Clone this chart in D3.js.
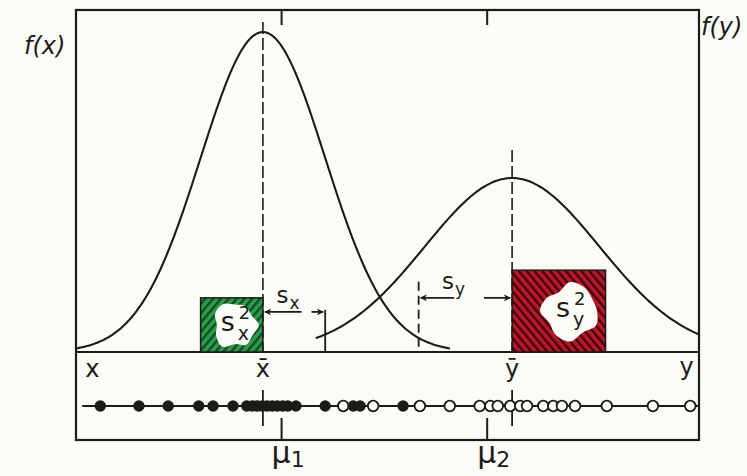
<!DOCTYPE html>
<html><head><meta charset="utf-8">
<script src="https://cdn.jsdelivr.net/npm/d3@7"></script>
<style>
html,body{margin:0;padding:0;background:#fcfcf6;}
svg{display:block;}
text{font-family:"DejaVu Sans",sans-serif;fill:#1b1b1b;}
</style></head><body>
<svg id="chart" width="747" height="476"></svg>
<script>
// Two samples measured on a common scale (0–100)
const sampleX = [3.9, 10.1, 14.8, 19.7, 22.0, 25.2, 27.4, 28.3, 29.1, 29.9, 30.7, 31.5, 32.3, 33.2, 34.0, 35.3, 40.0, 44.5, 45.6, 52.5];
const sampleY = [42.9, 47.7, 55.2, 60.0, 64.8, 66.5, 67.7, 69.7, 71.3, 72.4, 75.0, 76.6, 78.0, 80.1, 85.2, 92.6, 98.6];
// Sample means and standard deviations
const means = [30, 70];
const sds = [10, 15];
// Frequency curves: peak height and spread
const curvePeak = [0.798, 0.434];
const curveSpread = [10, 14];
const curveFrom = [0, 38.5];
const curveTo = [60, 100];
// Population means
const muValues = [33, 66];
const muSubs = ["1", "2"];
// Variable names
const varNames = ["x", "y"];
const meanNames = ["x̄", "ȳ"];
const densNames = ["f(x)", "f(y)"];

const svg = d3.select("#chart");
const ink = "#1b1b1b";
const paper = "#fcfcf6";

const x = d3.scaleLinear().domain([0, 100]).range([76, 699]);
const y = d3.scaleLinear().domain([0, 0.798]).range([352, 32]);

const frameTop = 10, frameBottom = 440, dotY = 406;
const freq = (v, i) => curvePeak[i] * Math.exp(-0.5 * ((v - means[i]) / curveSpread[i]) ** 2);

// hatch patterns
const defs = svg.append("defs");
function hatch(id, base, stripe, angle) {
  const p = defs.append("pattern").attr("id", id).attr("patternUnits", "userSpaceOnUse")
    .attr("width", 6).attr("height", 6).attr("patternTransform", `rotate(${angle})`);
  p.append("rect").attr("width", 6).attr("height", 6).attr("fill", base);
  p.append("rect").attr("width", 2.4).attr("height", 6).attr("fill", stripe);
}
hatch("hatchG", "#2f9b4c", "#0e4f22", 40);
hatch("hatchR", "#c01428", "#3a0610", -40);
defs.append("marker").attr("id", "arr").attr("viewBox", "0 0 10 10")
  .attr("refX", 9).attr("refY", 5).attr("markerWidth", 9).attr("markerHeight", 7)
  .attr("markerUnits", "userSpaceOnUse").attr("orient", "auto-start-reverse")
  .append("path").attr("d", "M0,0 L10,5 L0,10 L3,5 z").attr("fill", ink);

// frame and baseline
svg.append("rect").attr("x", x(0)).attr("y", frameTop).attr("width", x(100) - x(0)).attr("height", frameBottom - frameTop)
  .attr("fill", "none").attr("stroke", ink).attr("stroke-width", 2.2);
svg.append("line").attr("x1", x(0)).attr("x2", x(100)).attr("y1", y(0)).attr("y2", y(0))
  .attr("stroke", ink).attr("stroke-width", 2);

// variance boxes (width = s)
const boxTop = [0.135, 0.204];
const boxFill = ["url(#hatchG)", "url(#hatchR)"];
const boxX0 = [means[0] - sds[0], means[1]];
const blobC = [[0.55, 0.5], [0.62, 0.5]];
const blobR = [[1.0, 0.85, 0.95, 0.8, 1.05, 0.9, 0.75, 0.95, 1.0, 0.85, 0.9, 0.8],
               [0.9, 1.0, 0.85, 1.05, 0.95, 0.8, 1.0, 0.9, 0.75, 1.0, 0.95, 0.85]];
const blobScale = [[24, 24], [30, 29]];
[0, 1].forEach(i => {
  const x0 = x(boxX0[i]), x1 = x(boxX0[i] + sds[i]), y0 = y(boxTop[i]), y1 = y(0);
  svg.append("rect").attr("x", x0).attr("y", y0).attr("width", x1 - x0).attr("height", y1 - y0)
    .attr("fill", boxFill[i]).attr("stroke", ink).attr("stroke-width", 1.5);
  const cx = x0 + (x1 - x0) * blobC[i][0], cy = y0 + (y1 - y0) * blobC[i][1];
  const n = blobR[i].length;
  const pts = blobR[i].map((r, k) => {
    const a = k / n * 2 * Math.PI;
    return [cx + Math.cos(a) * r * blobScale[i][0], cy + Math.sin(a) * r * blobScale[i][1]];
  });
  svg.append("path").attr("d", d3.line().curve(d3.curveCardinalClosed)(pts)).attr("fill", paper);
  svg.append("text").attr("x", cx - 14).attr("y", cy + 6).attr("font-size", 27).text("s");
  svg.append("text").attr("x", cx + 3).attr("y", cy + 15).attr("font-size", 19).text(varNames[i]);
  svg.append("text").attr("x", cx + 4).attr("y", cy - 6).attr("font-size", 18).text("2");
});

// frequency curves
[0, 1].forEach(i => {
  const xs = d3.range(curveFrom[i], curveTo[i] + 0.01, 0.25);
  svg.append("path").attr("d", d3.line().x(v => x(v)).y(v => y(freq(v, i))).curve(d3.curveBasis)(xs))
    .attr("fill", "none").attr("stroke", ink).attr("stroke-width", 2.1);
});

// mean lines
const meanTop = [0.823, 0.504];
[0, 1].forEach(i => {
  svg.append("line").attr("x1", x(means[i])).attr("x2", x(means[i])).attr("y1", y(meanTop[i])).attr("y2", y(0))
    .attr("stroke", ink).attr("stroke-width", 1.6).attr("stroke-dasharray", "12,4");
});

// standard deviation markers
const sLineTop = [0.105, 0.175];
const sArrowLvl = [0.1, 0.135];
const sLineX = [means[0] + sds[0], means[1] - sds[1]];
const sDash = [null, "9,5"];
[0, 1].forEach(i => {
  svg.append("line").attr("x1", x(sLineX[i])).attr("x2", x(sLineX[i])).attr("y1", y(sLineTop[i])).attr("y2", y(0))
    .attr("stroke", ink).attr("stroke-width", 1.8).attr("stroke-dasharray", sDash[i]);
  const a = x(Math.min(means[i], sLineX[i])), b = x(Math.max(means[i], sLineX[i])), w = b - a;
  const ay = y(sArrowLvl[i]);
  // left arrow points at the left line, right arrow at the right line
  const gapL = i === 0 ? 0.62 : 0.38, gapR = i === 0 ? 0.78 : 0.7;
  svg.append("line").attr("x1", a + w * gapL).attr("x2", a + 2).attr("y1", ay).attr("y2", ay)
    .attr("stroke", ink).attr("stroke-width", 1.8).attr("marker-end", "url(#arr)");
  svg.append("line").attr("x1", a + w * gapR).attr("x2", b - 2).attr("y1", ay).attr("y2", ay)
    .attr("stroke", ink).attr("stroke-width", 1.8).attr("marker-end", "url(#arr)");
  const lx = a + w * (i === 0 ? 0.22 : 0.25);
  svg.append("text").attr("x", lx).attr("y", ay - 9).attr("font-size", 23).text("s");
  svg.append("text").attr("x", lx + 13).attr("y", ay - 3).attr("font-size", 17).text(varNames[i]);
});

// axis labels under the baseline
svg.append("text").attr("x", x(1.5)).attr("y", 377).attr("font-size", 24).text(varNames[0]);
svg.append("text").attr("x", x(98)).attr("y", 375).attr("font-size", 24).attr("text-anchor", "middle").text(varNames[1]);
[0, 1].forEach(i => {
  svg.append("text").attr("x", x(means[i])).attr("y", 377).attr("font-size", 24).attr("text-anchor", "middle").text(meanNames[i]);
});
svg.append("text").attr("x", 24).attr("y", 54).attr("font-size", 24).attr("font-style", "italic").text(densNames[0]);
svg.append("text").attr("x", 701).attr("y", 35).attr("font-size", 24).attr("font-style", "italic").text(densNames[1]);

// dot strip
svg.append("line").attr("x1", x(1)).attr("x2", x(100)).attr("y1", dotY).attr("y2", dotY)
  .attr("stroke", ink).attr("stroke-width", 1.8);
[0, 1].forEach(i => {
  svg.append("line").attr("x1", x(means[i])).attr("x2", x(means[i])).attr("y1", 390).attr("y2", 426)
    .attr("stroke", ink).attr("stroke-width", 1.8);
});
svg.append("g").selectAll("circle").data(sampleY).join("circle")
  .attr("cx", d => x(d)).attr("cy", dotY).attr("r", 5.3)
  .attr("fill", paper).attr("stroke", ink).attr("stroke-width", 1.8);
svg.append("g").selectAll("circle").data(sampleX).join("circle")
  .attr("cx", d => x(d)).attr("cy", dotY).attr("r", 5.7).attr("fill", ink);

// population mean ticks
muValues.forEach((m, i) => {
  svg.append("line").attr("x1", x(m)).attr("x2", x(m)).attr("y1", 418).attr("y2", frameBottom).attr("stroke", ink).attr("stroke-width", 2);
  svg.append("line").attr("x1", x(m)).attr("x2", x(m)).attr("y1", frameTop).attr("y2", frameTop + 15).attr("stroke", ink).attr("stroke-width", 2);
  const t = svg.append("text").attr("x", x(m) - 10).attr("y", 463).attr("font-size", 30);
  t.append("tspan").text("μ");
  t.append("tspan").attr("font-size", 22).attr("dy", 4).text(muSubs[i]);
});
</script>
</body></html>
